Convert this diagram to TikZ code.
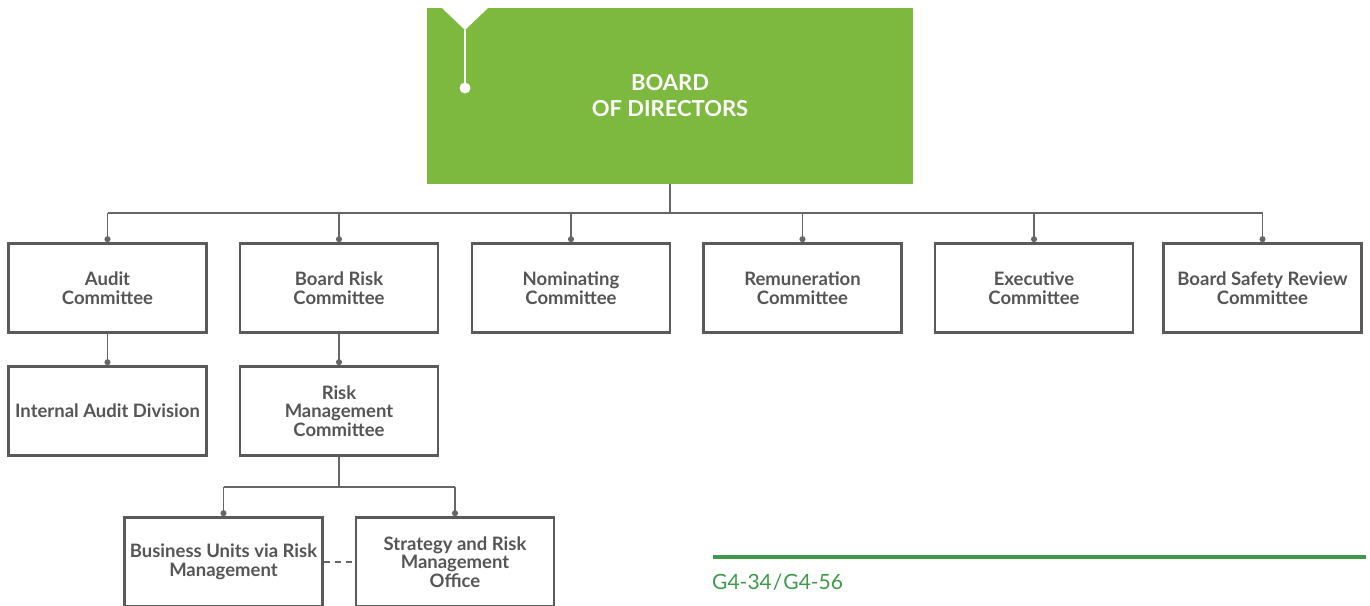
\documentclass[tikz,border=0pt]{standalone}
\usepackage{fontspec}
\setmainfont{Lato}
\usetikzlibrary{arrows.meta,calc}
\definecolor{boardgreen}{HTML}{7CB93E}
\definecolor{boxgray}{HTML}{5A5A5A}
\definecolor{txtgray}{HTML}{555555}
\definecolor{linegray}{HTML}{666666}
\definecolor{footgreen}{HTML}{3D9A4C}
\begin{document}
\begin{tikzpicture}[x=1pt,y=-1pt,
  unitbox/.style={draw=boxgray, line width=2.6pt, minimum width=198pt, minimum height=89pt,
    inner sep=0pt, align=center, text=txtgray, font=\fontsize{18.5}{18.5}\selectfont\bfseries},
  conn/.style={draw=linegray, line width=1.3pt},
  dotconn/.style={conn, -{Circle[length=6pt,width=6pt]}}]
\useasboundingbox (0,0) rectangle (1370,605);
\clip (0,0) rectangle (1370,605);
% board
\node[fill=boardgreen, minimum width=486pt, minimum height=176pt, inner sep=0pt, align=center,
  text=white, font=\fontsize{22}{26}\selectfont\bfseries] (board) at (670,96) {BOARD\\OF DIRECTORS};
\fill[white] (442,8) -- (488,8) -- (465,30) -- cycle;
\draw[white, line width=2pt] (465,30) -- (465,88);
\fill[white] (465,88) circle (5.5);
% row 1
\node[unitbox] (audit) at (107.5,288) {Audit\\Committee};
\node[unitbox] (brc) at (339,288) {Board Risk\\Committee};
\node[unitbox] (nom) at (571,288) {Nominating\\Committee};
\node[unitbox] (rem) at (802.5,288) {Remuneration\\Committee};
\node[unitbox] (exec) at (1034,288) {Executive\\Committee};
\node[unitbox] (bsr) at (1262.5,288) {Board Safety Review\\Committee};
% row 2
\node[unitbox] (iad) at (107.5,411) {Internal Audit Division};
\node[unitbox] (rmc) at (339,411) {Risk\\Management\\Committee};
% row 3
\node[unitbox] (bu) at (223.5,562) {Business Units via Risk\\Management};
\node[unitbox] (srmo) at (455,562) {Strategy and Risk\\Management\\Office};
% connectors
\coordinate (bus) at (670,213);
\draw[conn] (board.south) -- (bus);
\draw[conn] (audit.north |- bus) -- (bsr.north |- bus);
\foreach \n in {audit,brc,nom,rem,exec,bsr}{
  \draw[dotconn] (\n.north |- bus) -- (\n.north);
}
\draw[dotconn] (audit.south) -- (iad.north);
\draw[dotconn] (brc.south) -- (rmc.north);
\coordinate (sub) at (339,487);
\draw[conn] (rmc.south) -- (sub);
\draw[conn] (bu.north |- sub) -- (srmo.north |- sub);
\draw[dotconn] (bu.north |- sub) -- (bu.north);
\draw[dotconn] (srmo.north |- sub) -- (srmo.north);
\draw[conn, dash pattern=on 6pt off 5pt] (bu.east) -- (srmo.west);
% footer
\coordinate (fl) at (713,557);
\coordinate (fr) at (1366,557);
\draw[footgreen, line width=4pt] (fl) -- (fr);
\node[anchor=west, inner sep=0pt, text=footgreen, font=\fontsize{21}{24}\selectfont] (ref) at (712,582) {G4-34\kern1pt/\kern1pt G4-56};
\end{tikzpicture}
\end{document}
